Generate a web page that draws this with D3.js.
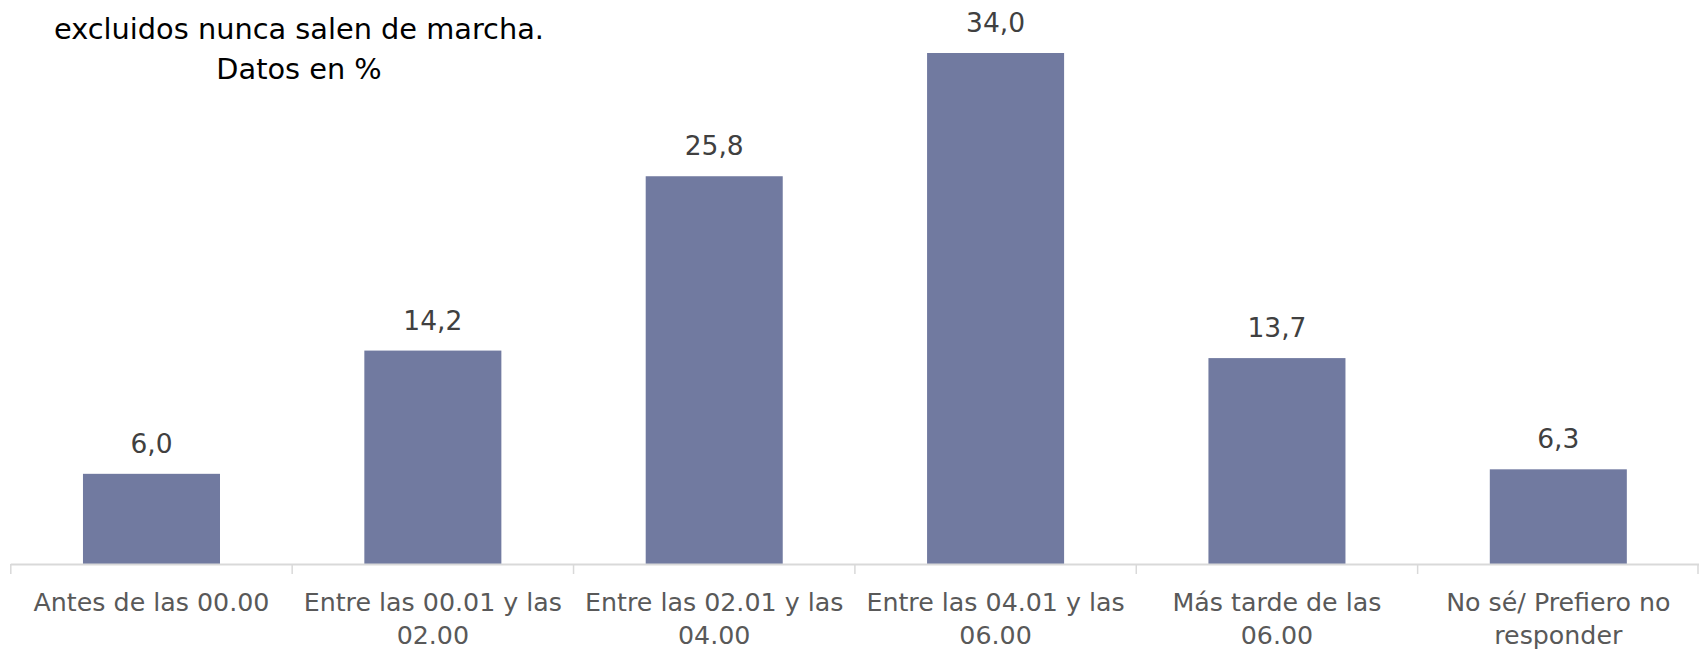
<!DOCTYPE html>
<html>
<head>
<meta charset="utf-8">
<script src="https://cdn.jsdelivr.net/npm/d3@7"></script>
<style>
  html, body { margin: 0; padding: 0; background: #ffffff; }
  svg { display: block; }
  text { font-family: "Century Gothic", "DejaVu Sans", sans-serif; }
</style>
</head>
<body>
<svg id="chart" width="1699" height="651"></svg>
<script>
// ---- data ----
const categories = [
  "Antes de las 00.00",
  "Entre las 00.01 y las 02.00",
  "Entre las 02.01 y las 04.00",
  "Entre las 04.01 y las 06.00",
  "Más tarde de las 06.00",
  "No sé/ Prefiero no responder"
];
const values = [6.0, 14.2, 25.8, 34.0, 13.7, 6.3];
const titleLines = ["excluidos nunca salen de marcha.", "Datos en %"];

// ---- layout ----
const W = 1699, H = 651;
const axisY = 564;
const svg = d3.select("#chart");

const x = d3.scaleBand()
  .domain(categories)
  .range([10.8, 1699])
  .paddingInner(0.513)
  .paddingOuter(0.2565);

const xCat = d3.scaleBand().domain(categories).range([10.8, 1699]).padding(0);

const y = d3.scaleLinear().domain([0, 34]).range([axisY, 53]);

const fmt = v => d3.format(".1f")(v).replace(".", ",");

// bars
svg.append("g").selectAll("rect")
  .data(values)
  .join("rect")
  .attr("x", (d, i) => x(categories[i]))
  .attr("width", x.bandwidth())
  .attr("y", d => y(d))
  .attr("height", d => y(0) - y(d))
  .attr("fill", "#717aa0");

// value labels
svg.append("g").selectAll("text")
  .data(values)
  .join("text")
  .attr("x", (d, i) => x(categories[i]) + x.bandwidth() / 2)
  .attr("y", d => y(d) - 21)
  .attr("text-anchor", "middle")
  .attr("font-size", 26.5)
  .attr("fill", "#404040")
  .text(d => fmt(d));

// axis line
svg.append("line")
  .attr("x1", 10.8).attr("x2", W)
  .attr("y1", axisY + 0.5).attr("y2", axisY + 0.5)
  .attr("stroke", "#d9d9d9").attr("stroke-width", 2);

// tick marks at category boundaries
const bounds = categories.map(c => xCat(c)).concat([xCat.range()[1] - 1]);
svg.append("g").selectAll("line")
  .data(bounds)
  .join("line")
  .attr("x1", d => d).attr("x2", d => d)
  .attr("y1", axisY).attr("y2", axisY + 10)
  .attr("stroke", "#d9d9d9").attr("stroke-width", 1.5);

// category labels with wrapping
const labelFont = 25.3;
const maxW = xCat.bandwidth() - 12;
const catG = svg.append("g");
categories.forEach(c => {
  const cx = xCat(c) + xCat.bandwidth() / 2;
  const t = catG.append("text")
    .attr("text-anchor", "middle")
    .attr("font-size", labelFont)
    .attr("fill", "#595959");
  const words = c.split(" ");
  let lines = [], line = [];
  const probe = catG.append("text").attr("font-size", labelFont).style("visibility", "hidden");
  words.forEach(w => {
    const test = line.concat([w]).join(" ");
    probe.text(test);
    if (probe.node().getComputedTextLength() > maxW && line.length) {
      lines.push(line.join(" "));
      line = [w];
    } else {
      line.push(w);
    }
  });
  lines.push(line.join(" "));
  probe.remove();
  lines.forEach((l, i) => {
    t.append("tspan").attr("x", cx).attr("y", 611 + i * 32.5).text(l);
  });
});

// title
const tg = svg.append("g");
titleLines.forEach((l, i) => {
  tg.append("text")
    .attr("x", 299)
    .attr("y", 39 + i * 40)
    .attr("text-anchor", "middle")
    .attr("font-size", 28.8)
    .attr("fill", "#000000")
    .text(l);
});
</script>
</body>
</html>
